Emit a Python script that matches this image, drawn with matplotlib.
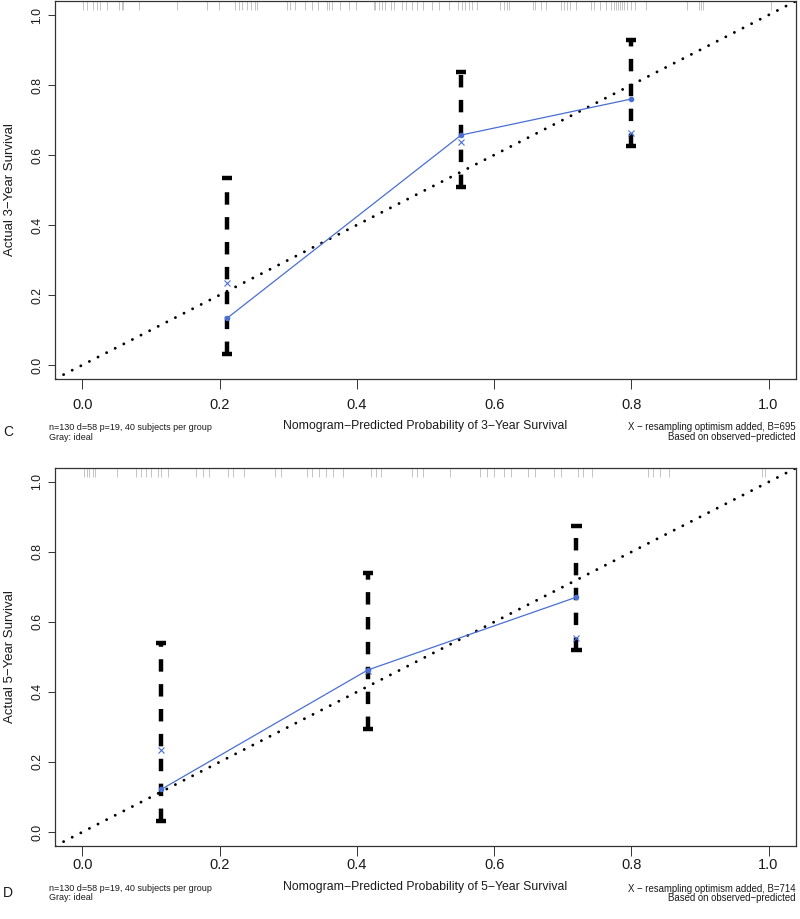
import numpy as np
import matplotlib
matplotlib.use('Agg')
import matplotlib.pyplot as plt
import matplotlib.transforms as mtrans

# values
# panel C: 3-year survival
pred3 = [0.211, 0.552, 0.800]
obs3 = [0.134, 0.657, 0.760]
corr3 = [0.235, 0.637, 0.663]
lo3 = [0.031, 0.509, 0.626]
hi3 = [0.534, 0.837, 0.929]
rug3 = [0.001, 0.007, 0.016, 0.021, 0.026, 0.036, 0.053, 0.057, 0.059, 0.082,
        0.138, 0.182, 0.199, 0.223, 0.228, 0.233, 0.240, 0.245, 0.252, 0.255,
        0.298, 0.303, 0.310, 0.325, 0.334, 0.344, 0.356, 0.359, 0.364, 0.376,
        0.388, 0.398, 0.425, 0.427, 0.432, 0.437, 0.441, 0.449, 0.454, 0.466,
        0.471, 0.480, 0.488, 0.497, 0.509, 0.519, 0.534, 0.548, 0.553, 0.558,
        0.563, 0.568, 0.575, 0.609, 0.614, 0.619, 0.621, 0.656, 0.659, 0.668,
        0.676, 0.697, 0.702, 0.706, 0.710, 0.719, 0.741, 0.746, 0.755, 0.763,
        0.770, 0.775, 0.777, 0.781, 0.783, 0.787, 0.790, 0.794, 0.799, 0.806,
        0.821, 0.881, 0.898, 0.902, 0.905, 1.003]

# panel D: 5-year survival
pred5 = [0.115, 0.416, 0.720]
obs5 = [0.122, 0.463, 0.671]
corr5 = [0.234, 0.460, 0.553]
lo5 = [0.032, 0.293, 0.520]
hi5 = [0.541, 0.740, 0.874]
rug5 = [0.002, 0.006, 0.010, 0.015, 0.018, 0.051, 0.078, 0.085, 0.093, 0.100,
        0.110, 0.115, 0.125, 0.166, 0.175, 0.185, 0.212, 0.220, 0.235, 0.281,
        0.290, 0.327, 0.335, 0.345, 0.355, 0.365, 0.380, 0.420, 0.428, 0.435,
        0.480, 0.487, 0.497, 0.535, 0.580, 0.590, 0.600, 0.615, 0.624, 0.650,
        0.660, 0.688, 0.698, 0.722, 0.730, 0.743, 0.825, 0.832, 0.842, 0.855,
        0.990, 0.995]

ticks = [0.0, 0.2, 0.4, 0.6, 0.8, 1.0]
tick_labels = ['0.0', '0.2', '0.4', '0.6', '0.8', '1.0']

plt.rcParams['font.family'] = ['Liberation Sans', 'DejaVu Sans']
txtc = '#1a1a1a'
blue = '#4a6fd4'

W, H = 800, 919
fig = plt.figure(figsize=(W / 100, H / 100), dpi=100)


def fy(py):
    return 1 - py / H


def panel(ax, pred, obs, corr, lo, hi, rug, years, letter, B, xpad, ylab_y, txt_y):
    ax.set_xlim(-0.04, 1.04)
    ax.set_ylim(-0.04, 1.04)
    ax.set_xticks(ticks)
    ax.set_xticklabels(tick_labels, fontsize=10.5, color=txtc)
    ax.set_yticks(ticks)
    ax.set_yticklabels(tick_labels, fontsize=8.7, color=txtc, rotation=90, va='center')
    ax.tick_params(axis='x', length=7, width=0.7, pad=xpad, color='#333333')
    ax.tick_params(axis='y', length=5, width=0.7, pad=3.5, color='#333333')
    for s in ax.spines.values():
        s.set_linewidth(0.9)
        s.set_color('#333333')

    # rug of predicted values along the top
    trans = mtrans.blended_transform_factory(ax.transData, ax.transAxes)
    ax.vlines(rug, 0.977, 1.0, transform=trans, color='#c4c4c4', lw=0.7)

    # ideal line
    ax.axline((0, 0), (1, 1), color='black', lw=2.1,
              linestyle=(0, (0.01, 3.3)), dash_capstyle='round')

    # error bars
    ax.vlines(pred, lo, hi, color='black', lw=3.2, linestyles=[(0, (2.8, 2.8))])
    for x, a, b in zip(pred, lo, hi):
        ax.plot([x - 0.0075, x + 0.0075], [a, a], color='black', lw=3.2,
                solid_capstyle='butt')
        ax.plot([x - 0.0075, x + 0.0075], [b, b], color='black', lw=3.2,
                solid_capstyle='butt')

    ax.plot(pred, obs, color=blue, lw=0.9, marker='o', ms=3, mec=blue, mfc=blue)
    ax.plot(pred, corr, linestyle='none', marker='x', ms=4.5, mew=0.8, color=blue)

    cx = (55 + 796) / 2 / W
    fig.text(cx, fy(txt_y), 'Nomogram\u2212Predicted Probability of %d\u2212Year Survival' % years,
             ha='center', va='center', fontsize=8.8, color=txtc)
    fig.text(49 / W, fy(txt_y + 1.5), 'n=130 d=58 p=19, 40 subjects per group',
             ha='left', va='center', fontsize=6.5, color=txtc)
    fig.text(49 / W, fy(txt_y + 11), 'Gray: ideal',
             ha='left', va='center', fontsize=6.5, color=txtc)
    fig.text(796 / W, fy(txt_y + 1.5), 'X \u2212 resampling optimism added, B=%d' % B,
             ha='right', va='center', fontsize=6.9, color=txtc)
    fig.text(796 / W, fy(txt_y + 11), 'Based on observed\u2212predicted',
             ha='right', va='center', fontsize=6.9, color=txtc)
    fig.text(8 / W, fy(txt_y + 6), letter, ha='center', va='center',
             fontsize=10, color=txtc)
    fig.text(10 / W, fy(ylab_y), 'Actual %d\u2212Year Survival' % years, rotation=90,
             ha='center', va='center', fontsize=9.5, color=txtc)


ax1 = fig.add_axes([55 / W, fy(379), 741 / W, 378 / H])
panel(ax1, pred3, obs3, corr3, lo3, hi3, rug3, 3, 'C', 695, 7, 190, 426)

ax2 = fig.add_axes([55 / W, fy(846), 741 / W, 378 / H])
panel(ax2, pred5, obs5, corr5, lo5, hi5, rug5, 5, 'D', 714, 1.5, 657, 887)

fig.savefig('out.png', dpi=100)
